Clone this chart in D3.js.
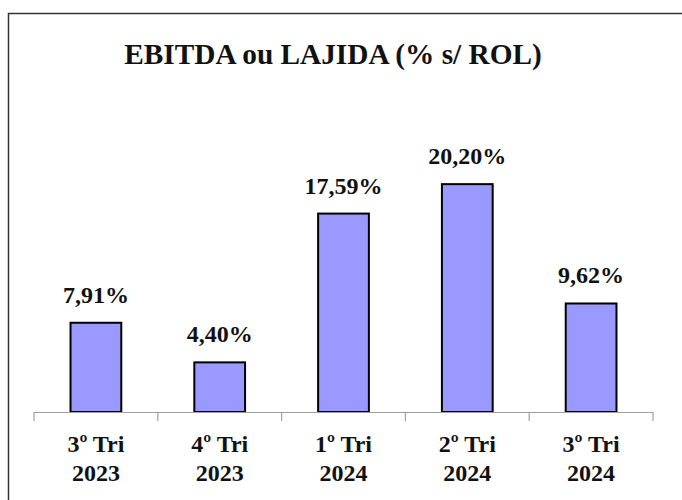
<!DOCTYPE html>
<html>
<head>
<meta charset="utf-8">
<script src="https://cdn.jsdelivr.net/npm/d3@7/dist/d3.min.js"></script>
</head>
<body style="margin:0">
<svg id="chart" width="682" height="500" style="display:block"></svg>
<script>
const title = "EBITDA ou LAJIDA (% s/ ROL)";
const categoriesLine1 = ["3º Tri", "4º Tri", "1º Tri", "2º Tri", "3º Tri"];
const categoriesLine2 = ["2023", "2023", "2024", "2024", "2024"];
const values = [7.91, 4.40, 17.59, 20.20, 9.62];
const valueLabels = ["7,91%", "4,40%", "17,59%", "20,20%", "9,62%"];

const svg = d3.select("#chart");

// outer frame
svg.append("rect")
  .attr("x", 8.5).attr("y", 13.5)
  .attr("width", 700).attr("height", 520)
  .attr("fill", "none").attr("stroke", "#333").attr("stroke-width", 1.5);

function styleText(sel, size) {
  return sel.attr("font-family", "Liberation Serif")
    .attr("font-weight", "bold")
    .attr("fill", "#111")
    .attr("font-size", size);
}

// title
styleText(svg.append("text")
  .attr("x", 333).attr("y", 64)
  .attr("text-anchor", "middle")
  .text(title), 29.3);

const idx = values.map((d, i) => i);
const x = d3.scaleBand().domain(idx).range([34, 653]).padding(0);
const y = d3.scaleLinear().domain([0, 25]).range([412, 130]);
const barW = x.bandwidth() * 0.41;

// bars
svg.append("g").selectAll("rect")
  .data(values)
  .join("rect")
  .attr("x", (d, i) => x(i) + (x.bandwidth() - barW) / 2)
  .attr("y", d => y(d))
  .attr("width", barW)
  .attr("height", d => y(0) - y(d))
  .attr("fill", "#9999FF")
  .attr("stroke", "#000")
  .attr("stroke-width", 2);

// axis line with ticks between categories
const axisG = svg.append("g");
axisG.append("line")
  .attr("x1", 34).attr("x2", 653)
  .attr("y1", y(0) + 0.5).attr("y2", y(0) + 0.5)
  .attr("stroke", "#a0a0a0").attr("stroke-width", 1.2);
const tickPos = idx.map(i => x(i)).concat([x(idx.length - 1) + x.bandwidth()]);
axisG.selectAll("line.tick")
  .data(tickPos)
  .join("line")
  .attr("class", "tick")
  .attr("x1", d => d).attr("x2", d => d)
  .attr("y1", y(0)).attr("y2", y(0) + 9)
  .attr("stroke", "#a0a0a0").attr("stroke-width", 1.2);

// value labels
styleText(svg.append("g").selectAll("text")
  .data(values)
  .join("text")
  .attr("x", (d, i) => x(i) + x.bandwidth() / 2)
  .attr("y", d => y(d) - 20)
  .attr("text-anchor", "middle")
  .text((d, i) => valueLabels[i]), 24);

// category labels
const catG = svg.append("g");
styleText(catG.selectAll("text.l1")
  .data(categoriesLine1)
  .join("text")
  .attr("class", "l1")
  .attr("x", (d, i) => x(i) + x.bandwidth() / 2)
  .attr("y", 452)
  .attr("text-anchor", "middle")
  .text(d => d), 24);
styleText(catG.selectAll("text.l2")
  .data(categoriesLine2)
  .join("text")
  .attr("class", "l2")
  .attr("x", (d, i) => x(i) + x.bandwidth() / 2)
  .attr("y", 481)
  .attr("text-anchor", "middle")
  .text(d => d), 24);
</script>
</body>
</html>
